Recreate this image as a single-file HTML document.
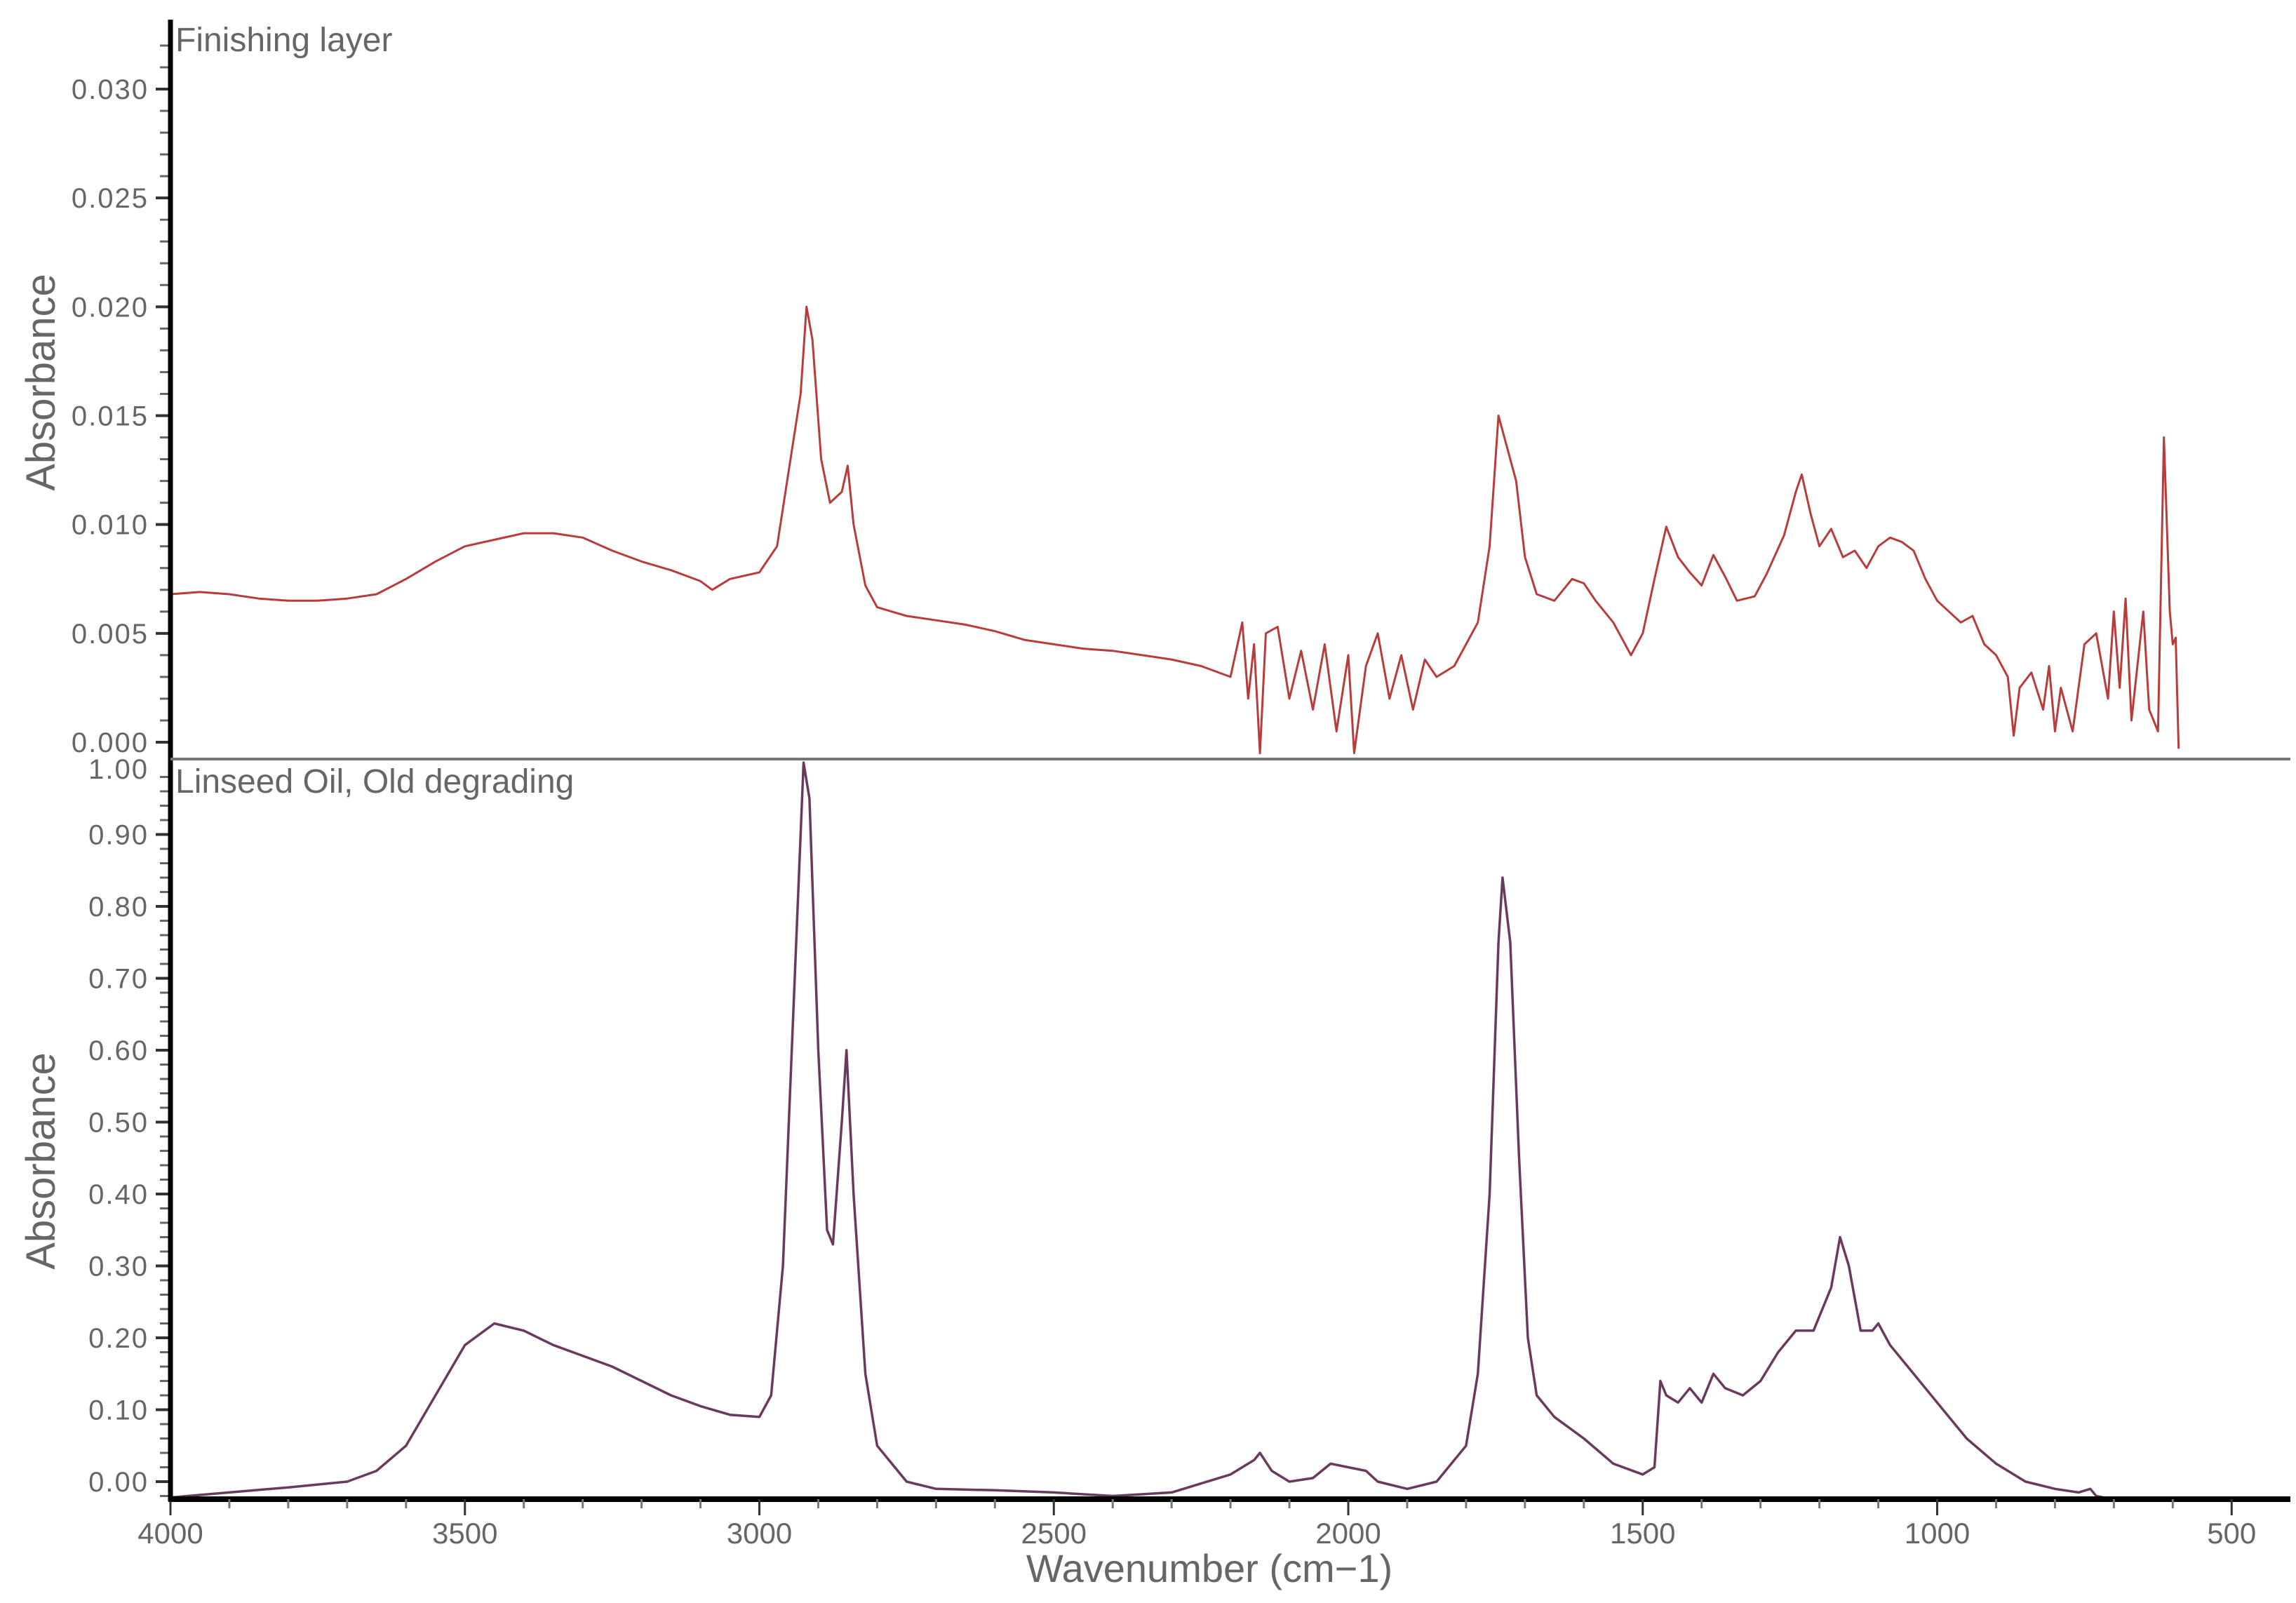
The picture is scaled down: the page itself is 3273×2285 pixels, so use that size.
<!DOCTYPE html>
<html><head><meta charset="utf-8"><style>
html,body{margin:0;padding:0;background:#fff;}
svg{display:block;}
text{font-family:"Liberation Sans",sans-serif;fill:#666;}
</style></head><body>
<svg id="chart" width="3273" height="2285" viewBox="0 0 3273 2285" xmlns="http://www.w3.org/2000/svg">
<g id="top"></g>
<g id="bot"></g>
<g id="xaxis"></g>
</svg>
<script>
const topWave=[4000,3950,3900,3850,3800,3750,3700,3650,3600,3550,3500,3450,3400,3350,3300,3250,3200,3150,3100,3080,3050,3000,2970,2950,2930,2920,2910,2895,2880,2860,2850,2840,2820,2800,2750,2700,2650,2600,2550,2500,2450,2400,2350,2300,2250,2200,2180,2170,2160,2150,2140,2120,2100,2080,2060,2040,2020,2000,1990,1970,1950,1930,1910,1890,1870,1850,1820,1800,1780,1760,1745,1730,1715,1700,1680,1650,1620,1600,1580,1550,1520,1500,1480,1460,1440,1420,1400,1380,1360,1340,1310,1290,1260,1240,1230,1215,1200,1180,1160,1140,1120,1100,1080,1060,1040,1020,1000,980,960,940,920,900,880,870,860,840,820,810,800,790,770,750,730,710,700,690,680,670,650,640,625,615,605,600,595,590];
const topAbs=[.0068,.0069,.0068,.0066,.0065,.0065,.0066,.0068,.0075,.0083,.009,.0093,.0096,.0096,.0094,.0088,.0083,.0079,.0074,.0070,.0075,.0078,.009,.0125,.016,.020,.0185,.013,.011,.0115,.0127,.010,.0072,.0062,.0058,.0056,.0054,.0051,.0047,.0045,.0043,.0042,.0040,.0038,.0035,.0030,.0055,.002,.0045,-.0005,.005,.0053,.002,.0042,.0015,.0045,.0005,.004,-.0005,.0035,.005,.002,.004,.0015,.0038,.003,.0035,.0045,.0055,.009,.015,.0135,.012,.0085,.0068,.0065,.0075,.0073,.0065,.0055,.004,.005,.0075,.0099,.0085,.0078,.0072,.0086,.0076,.0065,.0067,.0077,.0095,.0115,.0123,.0105,.009,.0098,.0085,.0088,.008,.009,.0094,.0092,.0088,.0075,.0065,.006,.0055,.0058,.0045,.004,.003,.0003,.0025,.0032,.0015,.0035,.0005,.0025,.0005,.0045,.005,.002,.006,.0025,.0066,.001,.006,.0015,.0005,.014,.006,.0045,.0048,-.0003];
const botWave=[4000,3900,3800,3700,3650,3600,3550,3500,3450,3400,3350,3300,3250,3200,3150,3100,3050,3000,2980,2960,2940,2925,2915,2900,2885,2875,2860,2852,2840,2820,2800,2750,2700,2600,2500,2400,2300,2200,2160,2150,2130,2100,2060,2030,2000,1970,1950,1900,1850,1800,1780,1760,1745,1738,1725,1710,1695,1680,1650,1600,1550,1500,1480,1470,1460,1440,1420,1400,1380,1360,1330,1300,1270,1240,1210,1180,1165,1150,1130,1110,1100,1080,1050,1000,950,900,850,800,760,740,730,700];
const botAbs=[-.022,-.015,-.008,0,.015,.05,.12,.19,.22,.21,.19,.175,.16,.14,.12,.105,.093,.09,.12,.3,.7,1.0,.95,.6,.35,.33,.5,.6,.4,.15,.05,0,-.01,-.012,-.015,-.02,-.015,.01,.03,.04,.015,0,.005,.025,.02,.015,0,-.01,0,.05,.15,.4,.75,.84,.75,.45,.2,.12,.09,.06,.025,.01,.02,.14,.12,.11,.13,.11,.15,.13,.12,.14,.18,.21,.21,.27,.34,.3,.21,.21,.22,.19,.16,.11,.06,.025,0,-.01,-.015,-.01,-.02,-.025];
const topTicks=["0.000","0.005","0.010","0.015","0.020","0.025","0.030"];
const botTicks=["0.00","0.10","0.20","0.30","0.40","0.50","0.60","0.70","0.80","0.90","1.00"];
const xTicks=[4000,3500,3000,2500,2000,1500,1000,500];

const NS="http://www.w3.org/2000/svg";
const X=w=>243+(4000-w)*0.8395;
const YT=v=>1058-(v/0.030)*(1058-127);
const YB=v=>2112-v*1025;
function mk(tag,attrs,parent){const e=document.createElementNS(NS,tag);for(const k in attrs)e.setAttribute(k,attrs[k]);parent.appendChild(e);return e;}
const svgEl=document.getElementById('chart');
const gT=document.getElementById('top'),gB=document.getElementById('bot'),gX=document.getElementById('xaxis');

let l=mk('line',{x1:243,y1:28,x2:243,y2:2140,stroke:'#000','stroke-width':7},svgEl);


l=mk('line',{x1:243,y1:1082,x2:3265,y2:1082,stroke:'#777','stroke-width':4},svgEl);


l=mk('line',{x1:240,y1:2137,x2:3265,y2:2137,stroke:'#000','stroke-width':8},gX);



for(let i=0;i<=32;i++){const v=i*0.001;const y=YT(v);if(y<30)continue;
  const major=i%5===0;
  const t=mk('line',{x1:major?222:228,y1:y,x2:243,y2:y,stroke:major?'#333':'#666','stroke-width':major?4:3},gT);
  
  }
topTicks.forEach(s=>{const v=parseFloat(s);
  const t=mk('text',{x:212,y:YT(v)+14,'text-anchor':'end','font-size':40,'letter-spacing':2},gT);t.textContent=s;
  
  });
for(let i=-1;i<=49;i++){const v=i*0.02;const y=YB(v);if(y<1090)continue;
  const major=i%5===0;
  const t=mk('line',{x1:major?222:228,y1:y,x2:243,y2:y,stroke:major?'#333':'#666','stroke-width':major?4:3},gB);
  
  }
botTicks.forEach(s=>{const v=parseFloat(s);let y=YB(v)+14;if(v===1)y=1110;
  const t=mk('text',{x:212,y:y,'text-anchor':'end','font-size':40,'letter-spacing':2},gB);t.textContent=s;
  
  });
for(let w=4000;w>=420;w-=100){const x=X(w);const major=w%500===0;
  const t=mk('line',{x1:x,y1:2137,x2:x,y2:major?2160:2150,stroke:major?'#333':'#777','stroke-width':3},gX);
  
  }
xTicks.forEach(w=>{const t=mk('text',{x:X(w),y:2200,'text-anchor':'middle','font-size':42},gX);t.textContent=w;
  
  });

let d=topWave.map((w,i)=>(i?'L':'M')+X(w).toFixed(1)+','+YT(topAbs[i]).toFixed(1)).join('');
let p=mk('path',{d:d,fill:'none',stroke:'#b83c3c','stroke-width':3,'stroke-linejoin':'round'},gT);


d=botWave.map((w,i)=>(i?'L':'M')+X(w).toFixed(1)+','+YB(botAbs[i]).toFixed(1)).join('');
p=mk('path',{d:d,fill:'none',stroke:'#6a3a5e','stroke-width':3.5,'stroke-linejoin':'round'},gB);



let t=mk('text',{x:250,y:73,'font-size':48},gT);t.textContent='Finishing layer';


t=mk('text',{x:250,y:1130,'font-size':48},gB);t.textContent='Linseed Oil, Old degrading';


t=mk('text',{x:0,y:0,'font-size':58,'text-anchor':'middle',transform:'translate(78,545) rotate(-90)'},gT);t.textContent='Absorbance';


t=mk('text',{x:0,y:0,'font-size':58,'text-anchor':'middle',transform:'translate(78,1655) rotate(-90)'},gB);t.textContent='Absorbance';


t=mk('text',{x:1724,y:2255,'font-size':56,'text-anchor':'middle'},gX);t.textContent='Wavenumber (cm−1)';


</script>
</body></html>
